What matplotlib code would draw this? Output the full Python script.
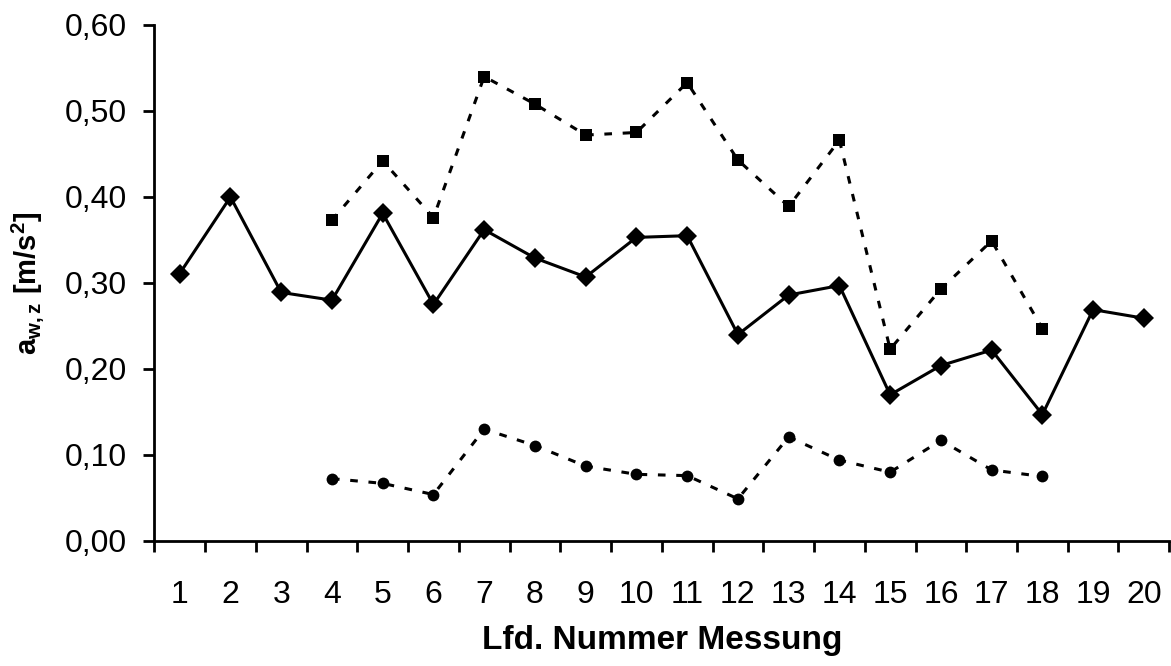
import numpy as np
import matplotlib.pyplot as plt
from matplotlib.ticker import FixedLocator, FuncFormatter

plt.rcParams['font.family'] = ['Liberation Sans', 'DejaVu Sans']
plt.rcParams['mathtext.fontset'] = 'custom'
plt.rcParams['mathtext.rm'] = 'Liberation Sans'
plt.rcParams['mathtext.bf'] = 'Liberation Sans:bold'

messung = np.arange(1, 21)

# Gesamtwert (durchgezogen, Rauten)
aw_gesamt = [0.311, 0.400, 0.289, 0.280, 0.381, 0.275, 0.362, 0.329, 0.307, 0.353,
             0.355, 0.240, 0.286, 0.297, 0.170, 0.204, 0.222, 0.147, 0.269, 0.259]
# Maximalwert (gestrichelt, Quadrate), Messungen 4-18
aw_max = [np.nan, np.nan, np.nan, 0.373, 0.442, 0.376, 0.540, 0.508, 0.472, 0.475,
          0.533, 0.443, 0.389, 0.466, 0.223, 0.293, 0.349, 0.247, np.nan, np.nan]
# Minimalwert (gestrichelt, Kreise), Messungen 4-18
aw_min = [np.nan, np.nan, np.nan, 0.0725, 0.067, 0.054, 0.130, 0.111, 0.087, 0.0775,
          0.076, 0.049, 0.121, 0.094, 0.080, 0.117, 0.0826, 0.075, np.nan, np.nan]

fig = plt.figure(figsize=(11.71, 6.66), dpi=100)
ax = fig.add_axes([0.1318, 0.1877, 0.8667, 0.7748])

ax.plot(messung, aw_max, color='black', lw=2.2, dashes=(2.5, 3.5),
        marker='s', markersize=9, markeredgewidth=0)
ax.plot(messung, aw_min, color='black', lw=2.2, dashes=(2.5, 3.5),
        marker='o', markersize=8.5, markeredgewidth=0)
ax.plot(messung, aw_gesamt, color='black', lw=2.2,
        marker='D', markersize=10, markeredgewidth=0)

ax.set_xlim(0.5, 20.5)
ax.set_ylim(0, 0.6)

for side in ('top', 'right'):
    ax.spines[side].set_visible(False)
for side in ('left', 'bottom'):
    ax.spines[side].set_linewidth(2.0)

# x: Striche zwischen den Kategorien, Beschriftung in der Mitte
ax.xaxis.set_major_locator(FixedLocator(np.arange(0.5, 21.0, 1.0)))
ax.xaxis.set_minor_locator(FixedLocator(messung))
ax.xaxis.set_major_formatter(FuncFormatter(lambda v, p: ''))
ax.xaxis.set_minor_formatter(FuncFormatter(lambda v, p: f'{int(round(v))}'))
ax.tick_params(axis='x', which='major', direction='out', length=8, width=2.0)
ax.tick_params(axis='x', which='minor', length=0, pad=28, labelsize=23)

ax.set_yticks(np.arange(0, 0.61, 0.1))
ax.yaxis.set_major_formatter(FuncFormatter(lambda v, p: f'{v:.2f}'.replace('.', ',')))
ax.tick_params(axis='y', direction='out', length=8, width=2.0, pad=12, labelsize=23)

ax.set_xlabel('Lfd. Nummer Messung', fontsize=24, fontweight='bold')
ax.xaxis.set_label_coords(0.5, -0.162)
ax.set_ylabel(r'a$_{\mathbf{w,z}}$ [m/s$^{\mathbf{2}}$]', fontsize=21, fontweight='bold')
ax.yaxis.set_label_coords(-0.107, 0.5)

fig.savefig('out.png', dpi=100)
